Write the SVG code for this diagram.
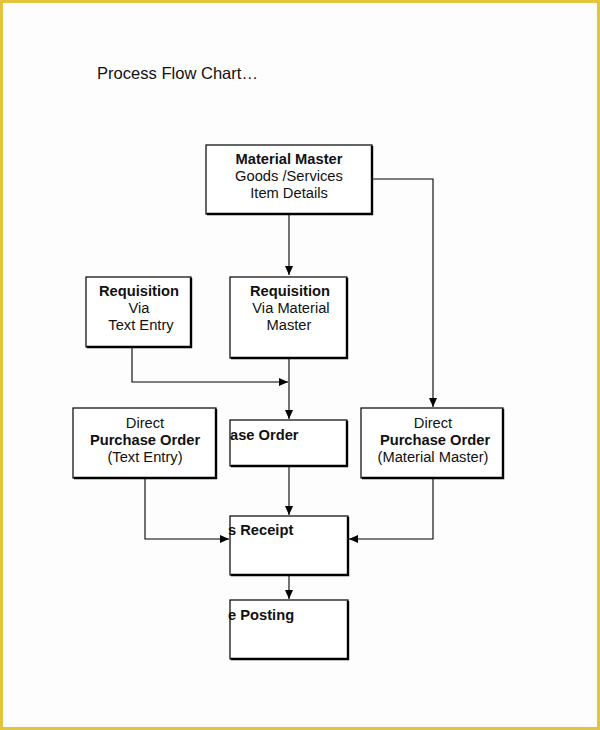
<svg xmlns="http://www.w3.org/2000/svg" width="600" height="730" viewBox="0 0 600 730">
<defs>
<style>
.box{fill:#fff;stroke:#000;stroke-width:1.2}
.sh{fill:none;stroke:#000;stroke-width:2.4}
.t{font-family:"Liberation Sans",Arial,sans-serif;font-size:14.7px;fill:#111;text-anchor:middle}
.b{font-weight:bold}
.l{text-anchor:start}
.c{fill:none;stroke:#000;stroke-width:1.1}
</style>
<marker id="ah" markerWidth="10" markerHeight="8" refX="9" refY="4" orient="auto" markerUnits="userSpaceOnUse">
<path d="M0,0 L9,4 L0,8 Z" fill="#000"/>
</marker>
</defs>
<rect x="0" y="0" width="600" height="730" fill="#fdfdfd"/>
<rect x="1.5" y="1.5" width="597" height="727" fill="none" stroke="#e2c43f" stroke-width="3"/>
<text x="97" y="79" font-family="Liberation Sans, Arial, sans-serif" font-size="16.5" fill="#111" textLength="161" lengthAdjust="spacingAndGlyphs">Process Flow Chart…</text>

<g id="connectors">
<line class="c" x1="289" y1="214" x2="289" y2="275" marker-end="url(#ah)"/>
<polyline class="c" points="372,179 433,179 433,407" marker-end="url(#ah)"/>
<polyline class="c" points="132,347 132,382 288,382" marker-end="url(#ah)"/>
<line class="c" x1="289" y1="358" x2="289" y2="419" marker-end="url(#ah)"/>
<line class="c" x1="289" y1="466" x2="289" y2="515" marker-end="url(#ah)"/>
<polyline class="c" points="145,478 145,539 229,539" marker-end="url(#ah)"/>
<polyline class="c" points="433,478 433,539 349,539" marker-end="url(#ah)"/>
<line class="c" x1="289" y1="575" x2="289" y2="599" marker-end="url(#ah)"/>
</g>

<g id="material-master">
<rect class="box" x="206" y="145" width="166" height="69"/>
<polyline class="sh" points="372,146 372,214 207,214"/>
<text class="t b" x="289" y="164">Material Master</text>
<text class="t" x="289" y="181">Goods /Services</text>
<text class="t" x="289" y="198">Item Details</text>
</g>

<g id="req-text">
<rect class="box" x="86" y="277" width="105" height="70"/>
<polyline class="sh" points="191,278 191,347 87,347"/>
<text class="t b" x="139" y="296">Requisition</text>
<text class="t" x="139" y="313">Via</text>
<text class="t" x="141" y="330">Text Entry</text>
</g>

<g id="req-material">
<rect class="box" x="230" y="277" width="117" height="81"/>
<polyline class="sh" points="347,278 347,358 231,358"/>
<text class="t b" x="290" y="296">Requisition</text>
<text class="t" x="291" y="313">Via Material</text>
<text class="t" x="289" y="330">Master</text>
</g>

<g id="purchase-order">
<rect class="box" x="230" y="420" width="117" height="46"/>
<polyline class="sh" points="347,421 347,466 231,466"/>
<text class="t b l" x="230" y="440">ase Order</text>
</g>

<g id="direct-po-text">
<rect class="box" x="73" y="408" width="143" height="70"/>
<polyline class="sh" points="216,409 216,478 74,478"/>
<text class="t" x="145" y="428">Direct</text>
<text class="t b" x="145" y="445">Purchase Order</text>
<text class="t" x="145" y="462">(Text Entry)</text>
</g>

<g id="direct-po-material">
<rect class="box" x="361" y="408" width="142" height="70"/>
<polyline class="sh" points="503,409 503,478 362,478"/>
<text class="t" x="433" y="428">Direct</text>
<text class="t b" x="435" y="445">Purchase Order</text>
<text class="t" x="433" y="462">(Material Master)</text>
</g>

<g id="goods-receipt">
<rect class="box" x="230" y="516" width="118" height="59"/>
<polyline class="sh" points="348,517 348,575 231,575"/>
<text class="t b l" x="228" y="535">s Receipt</text>
</g>

<g id="invoice-posting">
<rect class="box" x="230" y="600" width="118" height="59"/>
<polyline class="sh" points="348,601 348,659 231,659"/>
<text class="t b l" x="228" y="620">e Posting</text>
</g>
</svg>
